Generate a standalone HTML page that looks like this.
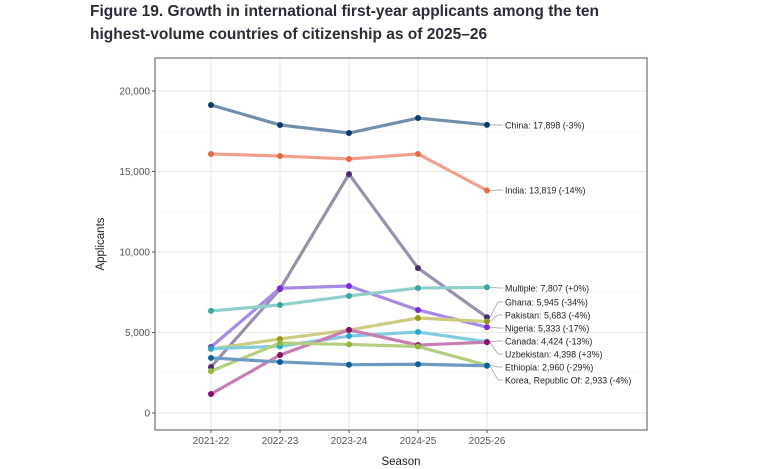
<!DOCTYPE html>
<html><head><meta charset="utf-8"><style>
body{margin:0;background:#fff;width:763px;height:469px;overflow:hidden;font-family:"Liberation Sans",sans-serif}
.title{position:absolute;left:90px;top:0px;font-size:15.5px;font-weight:bold;color:#2b2b3a;line-height:23px}
</style></head><body>
<div class="title">Figure 19. Growth in international first-year applicants among the ten<br>highest-volume countries of citizenship as of 2025–26</div>
<svg id="chart" width="763" height="469" style="position:absolute;left:0;top:0"></svg>
<script>
const seasons=["2021-22","2022-23","2023-24","2024-25","2025-26"];
const names=["China","India","Ghana","Nigeria","Multiple","Pakistan","Canada","Uzbekistan","Ethiopia","Korea, Republic Of"];
const labels=["China: 17,898 (-3%)","India: 13,819 (-14%)","Ghana: 5,945 (-34%)","Nigeria: 5,333 (-17%)","Multiple: 7,807 (+0%)","Pakistan: 5,683 (-4%)","Canada: 4,424 (-13%)","Uzbekistan: 4,398 (+3%)","Ethiopia: 2,960 (-29%)","Korea, Republic Of: 2,933 (-4%)"];
const china=[19130,17890,17390,18320,17898];
const india=[16090,15960,15780,16090,13819];
const ghana=[2860,7700,14840,9000,5945];
const nigeria=[4100,7750,7890,6400,5333];
const multiple=[6340,6710,7270,7760,7807];
const pakistan=[3980,4600,5150,5900,5683];
const canada=[4000,4140,4780,5030,4424];
const uzbekistan=[1180,3600,5160,4220,4398];
const ethiopia=[2600,4350,4260,4130,2960];
const korea=[3420,3170,3000,3030,2933];
const yTicks=[0,5000,10000,15000,20000];
const series=[china,india,ghana,nigeria,multiple,pakistan,canada,uzbekistan,ethiopia,korea];
const lineCol=["#6f8fad","#f0a08c","#9a8fad","#a98be6","#8fcfcc","#cdcc7f","#80cde0","#c77fb3","#b3cf7f","#6f9ac4"];
const ptCol=["#0b3a6f","#e8684a","#4a2c6b","#7a2cd8","#3aa5a0","#9a9a1a","#27a8cf","#8c0a6b","#94b840","#0b5f99"];
const labelY=[125,190,302,328,288,315,341,354,367,380];
const svg=document.getElementById('chart');const NS="http://www.w3.org/2000/svg";
const L=155,R=647,T=58,B=430;
const x=i=>211+i*69;const y=v=>413-v*0.0161;
function mk(t,a,p){const e=document.createElementNS(NS,t);for(const k in a)e.setAttribute(k,a[k]);(p||svg).appendChild(e);return e;}
yTicks.forEach(v=>{const g=mk('line',{x1:L,x2:R,y1:y(v),y2:y(v),stroke:'#e6e6e6','stroke-width':1});

const m=mk('line',{x1:L,x2:R,y1:y(v+2500),y2:y(v+2500),stroke:'#f0f0f0','stroke-width':0.6});

const t=mk('text',{x:L-5,y:y(v)+3.5,'text-anchor':'end','font-size':10,fill:'#555'});t.textContent=v.toLocaleString('en-US');

const tk=mk('line',{x1:L-3,x2:L,y1:y(v),y2:y(v),stroke:'#555'});});
seasons.forEach((s,i)=>{const g=mk('line',{x1:x(i),x2:x(i),y1:T,y2:B,stroke:'#e6e6e6'});

const tk=mk('line',{x1:x(i),x2:x(i),y1:B,y2:B+3,stroke:'#555'});
const t=mk('text',{x:x(i),y:B+14,'text-anchor':'middle','font-size':10,fill:'#555'});t.textContent=s;
});
const fr=mk('rect',{x:L,y:T,width:R-L,height:B-T,fill:'none',stroke:'#555','stroke-width':1});

series.forEach((d,si)=>{const p=mk('polyline',{points:d.map((v,i)=>x(i)+','+y(v)).join(' '),fill:'none',stroke:lineCol[si],'stroke-width':3.2,'stroke-linejoin':'round'});
});
series.forEach((d,si)=>{d.forEach((v,i)=>{const c=mk('circle',{cx:x(i),cy:y(v),r:3,fill:ptCol[si]});
});
const lx=x(4),ly=y(d[4]);
const cn=mk('polyline',{points:`${lx+3},${ly} 498,${labelY[si]} 503,${labelY[si]}`,fill:'none',stroke:'#999','stroke-width':0.7});

const t=mk('text',{x:505,y:labelY[si]+3.3,'font-size':8.9,fill:'#222'});t.textContent=labels[si];
});
const yl=mk('text',{x:0,y:0,transform:'translate(104,244) rotate(-90)','text-anchor':'middle','font-size':11.5,fill:'#222'});yl.textContent='Applicants';

const xl=mk('text',{x:401,y:465,'text-anchor':'middle','font-size':11.5,fill:'#222'});xl.textContent='Season';

</script>
</body></html>
